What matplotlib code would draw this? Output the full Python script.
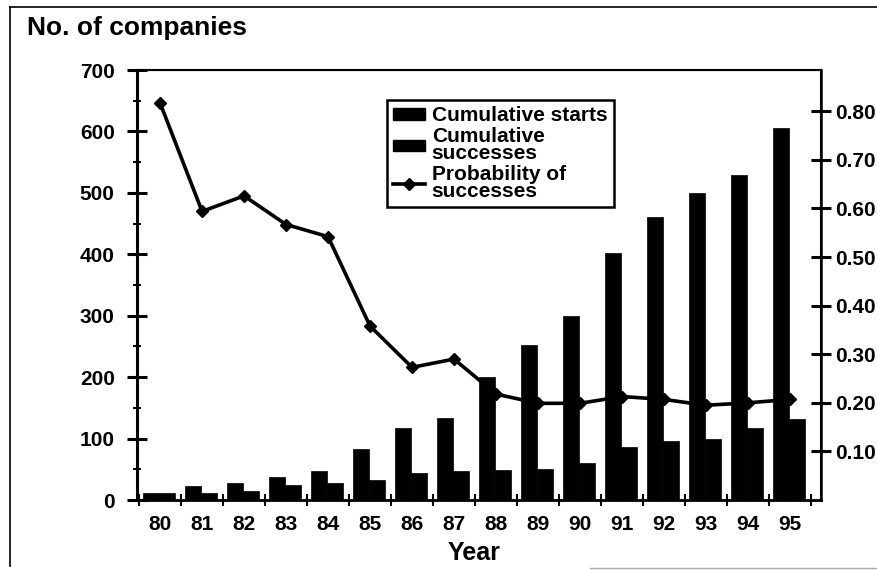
import matplotlib.pyplot as plt
import numpy as np
from matplotlib.lines import Line2D
from matplotlib.patches import Patch
from matplotlib.ticker import MultipleLocator, FixedLocator

plt.rcParams["font.family"] = ["Liberation Sans", "DejaVu Sans"]
plt.rcParams["font.weight"] = "bold"

years = ["80", "81", "82", "83", "84", "85", "86", "87", "88", "89", "90", "91", "92", "93", "94", "95"]
starts = [11, 23, 27, 37, 47, 83, 117, 134, 201, 252, 300, 402, 460, 500, 529, 605]
successes = [11, 12, 15, 24, 27, 32, 44, 48, 49, 51, 61, 86, 96, 100, 118, 132]
probability = [0.817, 0.594, 0.626, 0.567, 0.542, 0.358, 0.273, 0.290,
               0.218, 0.199, 0.199, 0.213, 0.207, 0.195, 0.200, 0.207]

W, H = 878, 571
fig = plt.figure(figsize=(W / 100, H / 100), dpi=100)

# axes box in pixels: left 137, right 821, top 70, bottom 500
ax = fig.add_axes([137 / W, (H - 500) / H, (821 - 137) / W, (500 - 70) / H])
x = np.arange(len(years))

ax.bar(x - 0.22, starts, width=0.39, color="black", edgecolor="black", linewidth=0.5)
ax.bar(x + 0.17, successes, width=0.39, color="black", edgecolor="black", linewidth=0.5)

ax.set_xlim(-0.55, 15.74)
ax.set_ylim(0, 700)

# x ticks at category boundaries, labels at centres
ax.xaxis.set_major_locator(FixedLocator(np.arange(-0.5, 16, 1.0)))
ax.xaxis.set_minor_locator(FixedLocator(x))
ax.set_xticklabels([])
ax.set_xticklabels(years, minor=True)
ax.tick_params(axis="x", which="major", direction="inout", length=9, width=1.5)
ax.tick_params(axis="x", which="minor", length=0, pad=11, labelsize=15)

ax.yaxis.set_major_locator(MultipleLocator(100))
ax.yaxis.set_minor_locator(MultipleLocator(50))
ax.tick_params(axis="y", which="major", direction="inout", length=14, width=2.2,
               pad=9, labelsize=15)
ax.tick_params(axis="y", which="minor", direction="inout", length=6, width=1.5)

for s in ax.spines.values():
    s.set_linewidth(1.5)
ax.spines["left"].set_linewidth(2.2)
ax.spines["bottom"].set_linewidth(2.0)

ax2 = ax.twinx()
ax2.plot(x, probability, color="black", linewidth=2.6, marker="D", markersize=6.5)
ax2.set_ylim(0, 0.885)
ax2.set_yticks([0.1, 0.2, 0.3, 0.4, 0.5, 0.6, 0.7, 0.8])
ax2.set_yticklabels(["0.10", "0.20", "0.30", "0.40", "0.50", "0.60", "0.70", "0.80"])
ax2.tick_params(axis="y", direction="inout", length=14, width=2.2, pad=3, labelsize=15)
ax2.spines["right"].set_linewidth(1.8)

handles = [
    Patch(facecolor="black", edgecolor="black"),
    Patch(facecolor="black", edgecolor="black"),
    Line2D([], [], color="black", linewidth=2.6, marker="D", markersize=6.5),
]
labels = ["Cumulative starts", "Cumulative\nsuccesses", "Probability of\nsuccesses"]
leg = ax2.legend(handles, labels, loc="upper left", bbox_to_anchor=(0.3655, 0.93),
                 fancybox=False, framealpha=1, edgecolor="black", fontsize=15,
                 handlelength=1.5, handleheight=0.45, handletextpad=0.35,
                 labelspacing=0.1, borderpad=0.3, borderaxespad=0)
leg.get_frame().set_linewidth(1.8)
for t in leg.get_texts():
    t.set_linespacing(0.85)

fig.text(27 / W, (H - 28) / H, "No. of companies", fontsize=19, fontweight="bold",
         ha="left", va="center")
fig.text(474 / W, (H - 553) / H, "Year", fontsize=18, fontweight="bold",
         ha="center", va="center")

# outer frame
fig.add_artist(Line2D([10 / W, 10 / W], [(H - 7) / H, (H - 566) / H], color="black", linewidth=1.2))
fig.add_artist(Line2D([10 / W, 877 / W], [(H - 7) / H, (H - 7) / H], color="black", linewidth=1.2))
fig.add_artist(Line2D([590 / W, 877 / W], [(H - 568) / H, (H - 568) / H], color="#aaaaaa", linewidth=1.0))

fig.savefig("out.png", dpi=100)
